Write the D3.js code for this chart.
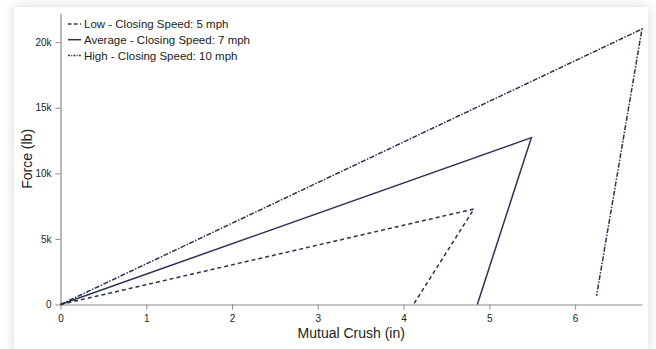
<!DOCTYPE html>
<html>
<head>
<meta charset="utf-8">
<script src="https://cdn.jsdelivr.net/npm/d3@7"></script>
<style>
  html, body { margin: 0; padding: 0; background: #ffffff; width: 656px; height: 349px; overflow: hidden; }
  #card { position: absolute; left: 14px; top: 7px; width: 634px; height: 345px; background: #fff;
          box-shadow: 0 0 12px rgba(0,0,0,0.16); }
  svg { position: absolute; left: 0; top: 0; }
  text { font-family: "Liberation Sans", Arial, sans-serif; }
</style>
</head>
<body>
<div id="card"></div>
<svg id="chart" width="656" height="349"></svg>
<script>
// Data
const seriesNames = ["Low - Closing Speed: 5 mph", "Average - Closing Speed: 7 mph", "High - Closing Speed: 10 mph"];
const lowCrush = [0, 4.82, 4.12];
const lowForce = [0, 7280, 50];
const avgCrush = [0, 5.49, 4.86];
const avgForce = [0, 12720, 0];
const highCrush = [0, 6.78, 6.25];
const highForce = [0, 21000, 650];
const xTicks = [0, 1, 2, 3, 4, 5, 6];
const yTicks = [0, 5000, 10000, 15000, 20000];
const yTickLabels = ["0", "5k", "10k", "15k", "20k"];

(function () {
const series = [
  { name: seriesNames[0], xs: lowCrush, ys: lowForce, dash: "4,3" },
  { name: seriesNames[1], xs: avgCrush, ys: avgForce, dash: null },
  { name: seriesNames[2], xs: highCrush, ys: highForce, dash: "5,1.5,1.5,1.5" }
];

const svg = d3.select("#chart");
const mLeft = 60.5, mRight = 642, mTop = 13.3, mBottom = 304.5;
const x = d3.scaleLinear().domain([0, 6.78]).range([mLeft, mRight]);
const y = d3.scaleLinear().domain([0, 22200]).range([mBottom, mTop]);
const lineColor = "#2b3352";
const axisColor = "#8c8c8c";

// Axes
const xAxis = svg.append("g").attr("transform", `translate(0,${mBottom})`)
  .call(d3.axisBottom(x).tickValues(xTicks).tickSize(5).tickSizeOuter(0).tickFormat(d3.format("d")));
const yAxis = svg.append("g").attr("transform", `translate(${mLeft},0)`)
  .call(d3.axisLeft(y).tickValues(yTicks).tickSize(5).tickSizeOuter(0).tickFormat((d, i) => yTickLabels[i]));
[xAxis, yAxis].forEach(g => {
  g.select(".domain").attr("stroke", axisColor).attr("stroke-width", 1.2);
  g.selectAll(".tick line").attr("stroke", axisColor);
  g.selectAll(".tick text").attr("fill", "#222").style("font-size", "10px")
    .style("font-family", "'Liberation Sans', Arial, sans-serif");
});
xAxis.selectAll(".tick text").attr("dy", "0.95em");
yAxis.selectAll(".tick text").attr("dx", "-1px");

// Axis titles
svg.append("text").attr("x", (mLeft + mRight) / 2).attr("y", 338)
  .attr("text-anchor", "middle").style("font-size", "14px").attr("fill", "#222")
  .text("Mutual Crush (in)");
svg.append("text").attr("transform", `translate(32,${(mTop + mBottom) / 2}) rotate(-90)`)
  .attr("text-anchor", "middle").style("font-size", "14px").attr("fill", "#222")
  .text("Force (lb)");

// Lines
const line = d3.line().x(d => x(d[0])).y(d => y(d[1]));
series.forEach(s => {
  const pts = s.xs.map((v, i) => [v, s.ys[i]]);
  svg.append("path").datum(pts).attr("d", line)
    .attr("fill", "none").attr("stroke", lineColor).attr("stroke-width", 1.5)
    .attr("stroke-dasharray", s.dash);
});

// Legend
const legend = svg.append("g");
series.forEach((s, i) => {
  const yy = 24 + i * 15.7;
  legend.append("line").attr("x1", 68).attr("x2", 81).attr("y1", yy).attr("y2", yy)
    .attr("stroke", lineColor).attr("stroke-width", 1.5).attr("stroke-dasharray", s.dash ? (i === 0 ? "3.5,2.5" : "2,1.2,1,1.2") : null);
  legend.append("text").attr("x", 84).attr("y", yy + 4.2).style("font-size", "11.5px")
    .attr("fill", "#222").text(s.name);
});
})();
</script>
</body>
</html>
